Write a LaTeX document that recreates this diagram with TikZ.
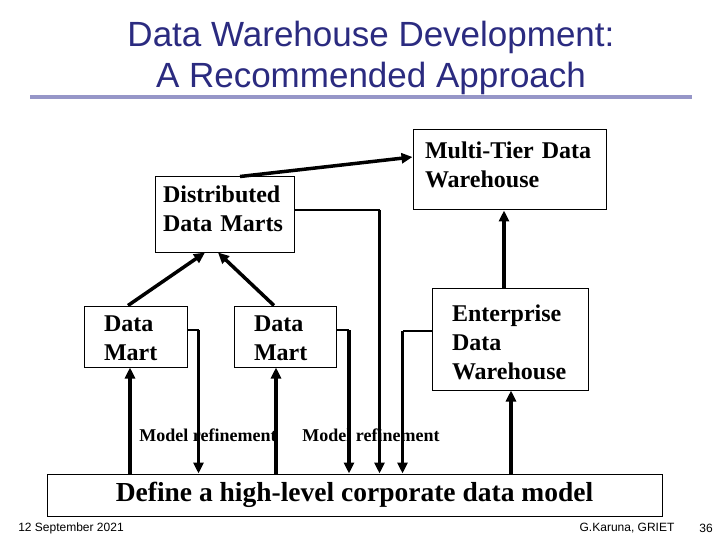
\documentclass[tikz,border=0pt]{standalone}
\usepackage{fontspec}
\setmainfont{Liberation Serif}
\newfontfamily\slidefont{Liberation Sans}
\usepackage{tikz}
\usetikzlibrary{calc,arrows.meta}
\definecolor{slidenavy}{RGB}{43,43,128}
\definecolor{slidelilac}{RGB}{150,150,200}
\tikzset{
  dwbox/.style={rectangle, draw=black, line width=1pt, fill=white, align=left,
                inner ysep=2pt, font=\fontsize{24}{29}\selectfont\bfseries},
  dwlink/.style={-{Triangle[length=11pt,width=10pt]}, line width=3.5pt, black},
  dwthin/.style={line width=1.2pt, black},
  dwnote/.style={font=\fontsize{18}{20}\selectfont\bfseries, inner sep=1pt},
  slidefoot/.style={font=\slidefont\fontsize{12}{14}\selectfont, inner sep=1pt},
}

\begin{document}
\begin{tikzpicture}[x=1pt, y=-1pt,
   martbox/.style={dwbox, minimum width=103pt, minimum height=61pt,
                   text width=63pt, inner xsep=20pt, text depth=25pt},
   slidetitle/.style={font=\slidefont\fontsize{35}{41}\selectfont, text=slidenavy, align=center}]
  \fill[white] (0,0) rectangle (720,540);
  \useasboundingbox (0,0) rectangle (720,540);
  \node[slidetitle] (title) at (371,58) {Data Warehouse Development:\\A Recommended Approach};
  \draw[slidelilac, line width=4pt] (30,97) -- (692,97);
  \node[dwbox, minimum width=193pt, minimum height=80pt, text width=169pt, inner xsep=12pt, text depth=39pt] (mtdw) at (509.5,170) {Multi-Tier Data\\Warehouse};
  \node[dwbox, minimum width=139pt, minimum height=75pt, text width=123pt, inner xsep=8pt, text depth=41pt] (ddm) at (224.5,214.5) {Distributed\\Data Marts};
  \node[martbox] (dm1) at (135.5,336.5) {Data\\Mart};
  \node[martbox, minimum width=102pt, text width=62pt] (dm2) at (285,336.5) {Data\\Mart};
  \node[dwbox, minimum width=156pt, minimum height=102pt, text width=116pt, inner xsep=20pt, text depth=52pt] (edw) at (510,339) {Enterprise\\Data\\Warehouse};
  \node[dwbox, align=center, font=\fontsize{27.5}{32}\selectfont\bfseries, minimum width=615pt, minimum height=42pt] (model) at (354.5,495) {Define a high-level corporate data model};
  \node[dwnote] (note1) at (208,435) {Model refinement};
  \node[dwnote] (note2) at (371,435) {Model refinement};
  \draw[dwlink] ([xshift=15.5pt]ddm.north) -- ([yshift=13pt]mtdw.west);
  \draw[dwlink] ([xshift=-7.5pt]dm1.north) -- ([xshift=-19.5pt]ddm.south);
  \draw[dwlink] ([xshift=-11pt]dm2.north) -- ([xshift=-6.5pt]ddm.south);
  \draw[dwlink] ([xshift=-6pt]edw.north) -- ([xshift=-6pt]edw.north |- mtdw.south);
  \draw[dwlink] ([xshift=-5.5pt]dm1.south |- model.north) -- ([xshift=-5.5pt]dm1.south);
  \draw[dwlink] ([xshift=-9pt]dm2.south |- model.north) -- ([xshift=-9pt]dm2.south);
  \draw[dwlink] ([xshift=1pt]edw.south |- model.north) -- ([xshift=1pt]edw.south);
  \draw[dwthin] ([yshift=6.5pt]dm1.east) -- ++(11,0) coordinate (k1);
  \draw[dwthin] ([yshift=6.5pt]dm2.east) -- ++(12.5,0) coordinate (k2);
  \draw[dwthin] ([yshift=4.5pt]ddm.east) -- ++(85,0) coordinate (k3);
  \draw[dwthin] ([yshift=8pt]edw.west) -- ++(-29,0) coordinate (k4);
  \draw[dwlink] (k1) -- (k1 |- model.north);
  \draw[dwlink] (k2) -- (k2 |- model.north);
  \draw[dwlink] (k3) -- (k3 |- model.north);
  \draw[dwlink] (k4) -- (k4 |- model.north);
  \node[slidefoot] (date) at (71,528) {12 September 2021};
  \node[slidefoot] (author) at (627,528) {G.Karuna, GRIET};
  \node[slidefoot] (page) at (706,528) {36};
\end{tikzpicture}
\end{document}
